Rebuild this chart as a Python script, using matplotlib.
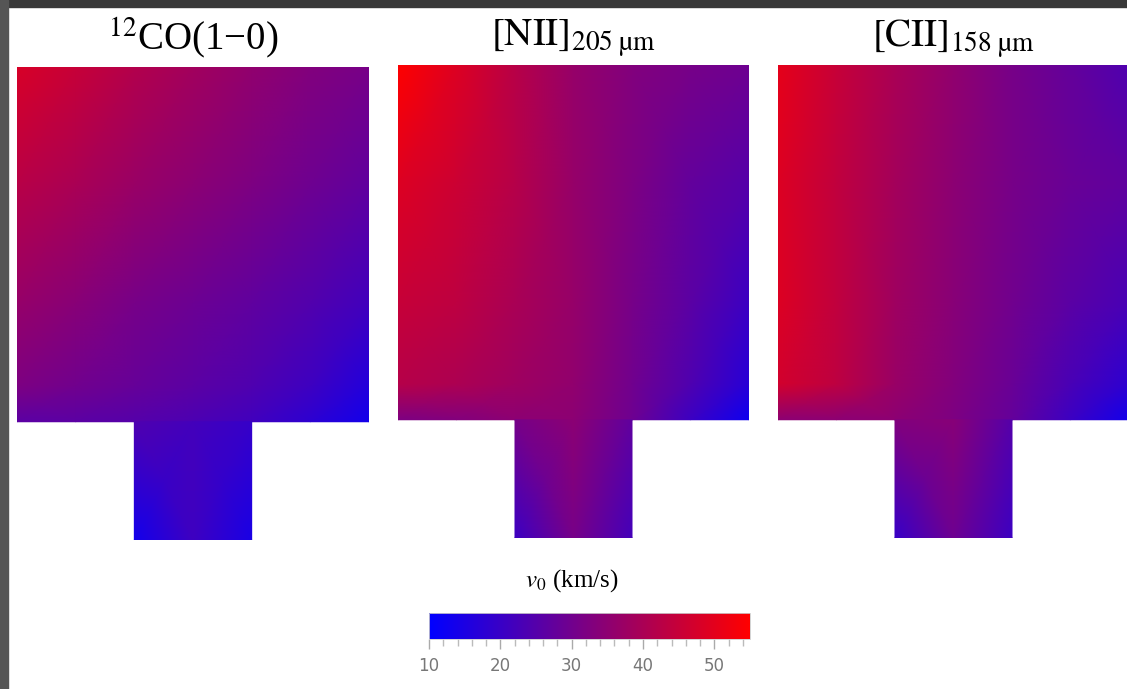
"""
v0 maps for three tracers, with a shared colour bar
"""

import numpy as np
import matplotlib.pyplot as plt
from matplotlib.colors import LinearSegmentedColormap
from matplotlib.patches import Rectangle
from matplotlib.ticker import MultipleLocator

plt.rcParams['mathtext.fontset'] = 'stix'
plt.rcParams['font.family'] = ['Liberation Serif', 'DejaVu Serif']

W, H = 1127, 689

# titles of the three maps
titles = [r'$^{12}$CO(1−0)',
          r'$\mathrm{[NII]}_{\mathrm{205\ µm}}$',
          r'$\mathrm{[CII]}_{\mathrm{158\ µm}}$']

# v0 (km/s) on the nodes of the upper block (rows top -> bottom)
co_top = [[48.0, 45.0, 41.5, 38.5, 35.5, 33.0, 31.0],
          [42.5, 40.0, 37.0, 34.5, 32.0, 29.5, 27.0],
          [36.5, 34.0, 31.0, 29.0, 27.0, 24.5, 21.5],
          [32.0, 30.0, 28.0, 26.0, 24.0, 21.0, 16.0],
          [26.0, 26.0, 25.0, 23.5, 21.5, 18.0, 13.5]]
nii_top = [[55.0, 49.0, 42.5, 36.5, 33.0, 31.0, 29.5],
           [49.0, 46.0, 42.0, 36.5, 32.0, 27.5, 25.0],
           [45.0, 43.5, 40.0, 36.5, 31.0, 26.0, 20.6],
           [42.0, 40.5, 38.0, 35.5, 30.0, 24.0, 17.0],
           [32.0, 33.0, 34.7, 34.7, 29.4, 20.6, 12.6]]
cii_top = [[50.5, 45.0, 40.0, 35.5, 31.0, 27.6, 24.0],
           [49.0, 44.0, 39.0, 34.7, 31.0, 28.5, 27.0],
           [49.0, 44.0, 38.0, 34.0, 30.0, 26.0, 23.0],
           [47.0, 43.5, 37.0, 33.0, 28.5, 23.0, 18.0],
           [34.7, 34.7, 34.7, 32.0, 27.6, 20.6, 13.5]]

# v0 (km/s) on the nodes of the lower stem (top row, bottom row)
co_stem = [[24.0, 22.0, 19.5],
           [13.5, 21.0, 14.5]]
nii_stem = [[31.0, 34.7, 27.0],
            [20.6, 31.0, 22.0]]
cii_stem = [[33.0, 34.0, 25.0],
            [19.7, 29.4, 20.6]]

cbar_ticks = [10, 20, 30, 40, 50]
vmin, vmax = 10, 55

# node grid of the map (in pointing units)
x_top = np.arange(0, 3.01, 0.5)
y_top = np.array([0, 1, 2, 2.7, 3])
x_stem = np.array([1, 1.5, 2])
y_stem = np.array([3, 4])

cmap = LinearSegmentedColormap.from_list('blue_red', ['#0000ff', '#ff0000'])


def px_axes(fig, left, top, width, height):
    """Add axes from pixel box (top-left origin)"""
    return fig.add_axes([left / W, 1 - (top + height) / H, width / W, height / H])


fig = plt.figure(figsize=(W / 100, H / 100), dpi=100)

# dark screenshot border
fig.patches.append(Rectangle((0, 1 - 7 / H), 1, 7 / H, transform=fig.transFigure,
                             color='#383838', zorder=0))
fig.patches.append(Rectangle((0, 0), 8 / W, 1, transform=fig.transFigure,
                             color='#555555', zorder=0))

boxes = [(17, 67, 352, 473), (398, 65, 351, 473), (778, 65, 351, 473)]
maps = [(co_top, co_stem), (nii_top, nii_stem), (cii_top, cii_stem)]
title_y = [50, 46, 47]

for box, (top, stem), title, ty in zip(boxes, maps, titles, title_y):
    ax = px_axes(fig, *box)
    X, Y = np.meshgrid(x_top, y_top)
    mesh = ax.pcolormesh(X, Y, np.array(top), shading='gouraud',
                         cmap=cmap, vmin=vmin, vmax=vmax)
    Xs, Ys = np.meshgrid(x_stem, y_stem)
    ax.pcolormesh(Xs, Ys, np.array(stem), shading='gouraud',
                  cmap=cmap, vmin=vmin, vmax=vmax)
    ax.set_xlim(0, 3)
    ax.set_ylim(4, 0)
    ax.axis('off')

    cx = (box[0] + box[2] / 2) / W
    fig.text(cx, 1 - ty / H, title, ha='center', va='baseline', fontsize=28)

# colour bar
cax = px_axes(fig, 429, 613, 321, 26)
cb = fig.colorbar(mesh, cax=cax, orientation='horizontal', ticks=cbar_ticks)
cb.ax.xaxis.set_minor_locator(MultipleLocator(2))
cb.outline.set_edgecolor('#cccccc')
cb.outline.set_linewidth(0.6)
cb.ax.tick_params(which='major', length=7, width=1, color='#aaaaaa',
                  labelsize=12, labelcolor='#777777', pad=6)
cb.ax.tick_params(which='minor', length=5, width=1, color='#bbbbbb')
for lbl in cb.ax.get_xticklabels():
    lbl.set_family('DejaVu Sans')

fig.text(572 / W, 1 - 587 / H, r'$v_0$ (km/s)', ha='center', va='baseline',
         fontsize=18)

fig.savefig('out.png', dpi=100)
